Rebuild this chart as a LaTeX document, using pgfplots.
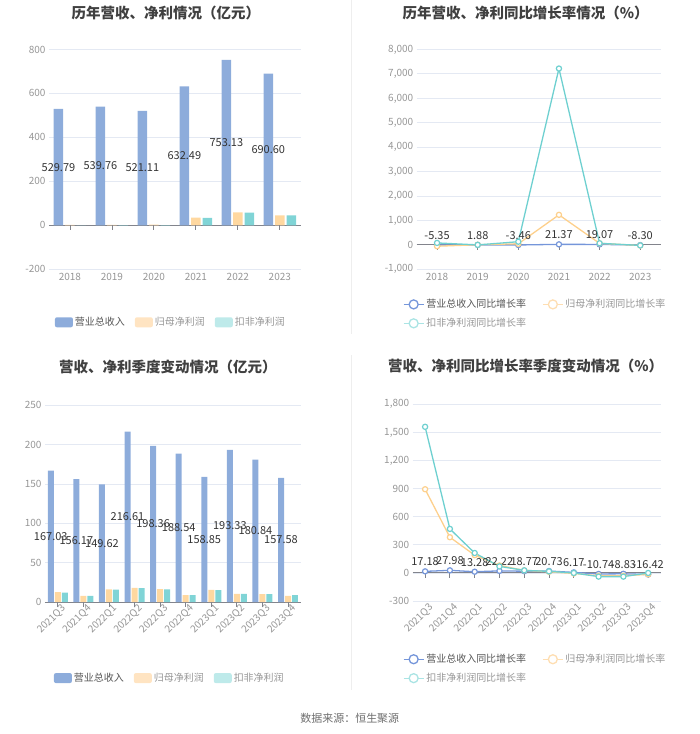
\documentclass[border=0pt]{standalone}
\usepackage{pgfplots}
\pgfplotsset{compat=1.18}
\usepackage{fontspec}
\setmainfont{Noto Sans CJK SC}
\definecolor{revc}{RGB}{141,172,219}
\definecolor{netc}{RGB}{255,216,160}
\definecolor{dedc}{RGB}{128,212,214}
\definecolor{netleg}{RGB}{255,228,194}
\definecolor{dedleg}{RGB}{190,234,234}
\definecolor{revl}{RGB}{117,150,218}
\definecolor{netl}{RGB}{253,208,140}
\definecolor{dedl}{RGB}{110,208,208}
\definecolor{netll}{RGB}{254,222,178}
\definecolor{dedll}{RGB}{170,228,228}
\definecolor{gridc}{RGB}{228,233,243}
\definecolor{zeroc}{RGB}{130,132,140}
\definecolor{tickc}{RGB}{150,150,150}
\definecolor{titlec}{RGB}{64,64,64}
\definecolor{labc}{RGB}{51,51,51}
\definecolor{divc}{RGB}{238,238,238}
\definecolor{legdark}{RGB}{85,85,85}
\definecolor{leglight}{RGB}{150,150,150}
\pgfplotsset{
  base/.style={
    scale only axis, anchor=south west,
    axis line style={draw=none},
    major tick length=0pt,
    ymajorgrids, grid style={gridc, line width=0.8bp},
    extra y ticks={0}, extra y tick labels={},
    extra y tick style={grid style={zeroc, line width=1bp}},
    tick label style={font=\fontsize{10bp}{12bp}\selectfont, text=tickc},
    /pgf/number format/1000 sep={,},
    /pgf/number format/assume math mode=true,
    clip=false,
    legend cell align=left,
    legend style={draw=none, fill=none, inner sep=0pt,
      font=\fontsize{10bp}{12bp}\selectfont},
  },
  barleg/.style={legend image code/.code={\fill[#1, rounded corners=2bp] (0bp,-5bp) rectangle (18bp,5bp);}},
  lineleg/.style={legend image code/.code={\draw[#1, line width=1.3bp] (0bp,0bp) -- (20bp,0bp); \draw[#1, fill=white, line width=1.3bp] (10bp,0bp) circle (4.5bp);}},
  barlab/.style={draw=none, mark=none, forget plot, point meta=explicit symbolic, nodes near coords,
    every node near coord/.append style={anchor=center, font=\fontsize{11bp}{13bp}\selectfont, text=labc}},
  lin/.style={#1, line width=1.3bp, mark=*, mark size=2.6bp, mark options={fill=white, draw=#1, line width=1.2bp, solid}},
  linelab/.style={point meta=explicit symbolic, nodes near coords,
    every node near coord/.append style={anchor=south, yshift=1.5bp, font=\fontsize{11bp}{13bp}\selectfont, text=labc}},
}
\begin{document}
\begin{tikzpicture}
\path (0bp,0bp) rectangle (700bp,734bp);
\draw[divc, line width=1bp] (352bp,734bp) -- (352bp,400bp);
\draw[divc, line width=1bp] (352bp,379bp) -- (352bp,44bp);
% titles
\node[font=\fontsize{14.5bp}{17bp}\selectfont\bfseries, text=titlec] at (166bp,721bp) {历年营收、净利情况（亿元）};
\node[font=\fontsize{14.5bp}{17bp}\selectfont\bfseries, text=titlec] at (526bp,721bp) {历年营收、净利同比增长率情况（\%）};
\node[font=\fontsize{14.5bp}{17bp}\selectfont\bfseries, text=titlec] at (168bp,367bp) {营收、净利季度变动情况（亿元）};
\node[font=\fontsize{14.5bp}{17bp}\selectfont\bfseries, text=titlec] at (526bp,368bp) {营收、净利同比增长率季度变动情况（\%）};
\node[font=\fontsize{11bp}{13bp}\selectfont, text={rgb,255:red,110;green,110;blue,110}] at (350bp,16bp) {数据来源：恒生聚源};

% ---------- Panel 1 ----------
\begin{axis}[base, at={(49bp,465bp)}, width=252bp, height=220bp,
  xmin=-0.5, xmax=5.5, ymin=-200, ymax=800, ytick={-200,0,...,800},
  xtick={0,...,5}, xticklabels={2018,2019,2020,2021,2022,2023},
  legend columns=3,
  legend style={at={(0.484,-0.241)}, anchor=center,
    /tikz/every even column/.append style={column sep=8bp}}]
\addplot[ybar, bar width=9.5bp, bar shift=-11.5bp, fill=revc, draw=none, barleg=revc]
  coordinates {(0,529.79) (1,539.76) (2,521.11) (3,632.49) (4,753.13) (5,690.60)};
\addlegendentry{\textcolor{legdark}{营业总收入}}
\addplot[ybar, bar width=9.5bp, bar shift=0bp, fill=netc, draw=none, barleg=netleg]
  coordinates {(0,1.8) (1,1.9) (2,2.8) (3,35.5) (4,59) (5,45.5)};
\addlegendentry{\textcolor{leglight}{归母净利润}}
\addplot[ybar, bar width=9.5bp, bar shift=11.5bp, fill=dedc, draw=none, barleg=dedleg]
  coordinates {(0,0.3) (1,0.5) (2,0.5) (3,34) (4,58) (5,45)};
\addlegendentry{\textcolor{leglight}{扣非净利润}}
\addplot[barlab] coordinates {(-0.274,264.9) [529.79] (0.726,269.88) [539.76] (1.726,260.56) [521.11] (2.726,316.25) [632.49] (3.726,376.57) [753.13] (4.726,345.3) [690.60]};
\pgfplotsinvokeforeach{0,...,5}{\draw[zeroc, line width=0.8bp] (axis cs:#1,0) -- ++(0bp,-5bp);}
\end{axis}

% ---------- Panel 2 ----------
\begin{axis}[base, at={(417bp,465bp)}, width=244bp, height=220bp,
  xmin=-0.5, xmax=5.5, ymin=-1000, ymax=8000, ytick={-1000,0,...,8000},
  xtick={0,...,5}, xticklabels={2018,2019,2020,2021,2022,2023},
  legend columns=2,
  legend style={at={(-0.057,-0.127)}, anchor=north west, row sep=5bp,
    /tikz/every even column/.append style={column sep=14bp}}]
\addplot[lin=revl, lineleg=revl, linelab]
  coordinates {(0,-5.35) [-5.35] (1,1.88) [1.88] (2,-3.46) [-3.46] (3,21.37) [21.37] (4,19.07) [19.07] (5,-8.30) [-8.30]};
\addlegendentry{\textcolor{legdark}{营业总收入同比增长率}}
\addplot[lin=netl, lineleg=netll]
  coordinates {(0,-55) (1,5) (2,45) (3,1230) (4,62) (5,-25)};
\addlegendentry{\textcolor{leglight}{归母净利润同比增长率}}
\addplot[lin=dedl, lineleg=dedll]
  coordinates {(0,80) (1,0) (2,130) (3,7220) (4,66) (5,-22)};
\addlegendentry{\textcolor{leglight}{扣非净利润同比增长率}}
\pgfplotsinvokeforeach{0,...,5}{\draw[zeroc, line width=0.8bp] (axis cs:#1,0) -- ++(0bp,-5bp);}
\end{axis}

% ---------- Panel 3 ----------
\begin{axis}[base, at={(45bp,132bp)}, width=256bp, height=197bp,
  xmin=-0.5, xmax=9.5, ymin=0, ymax=250, ytick={0,50,...,250},
  xtick={0,...,9}, xticklabels={2021Q3,2021Q4,2022Q1,2022Q2,2022Q3,2022Q4,2023Q1,2023Q2,2023Q3,2023Q4},
  xticklabel style={rotate=45, anchor=north east, inner sep=1bp, xshift=2bp, yshift=-2bp},
  legend columns=3,
  legend style={at={(0.488,-0.386)}, anchor=center,
    /tikz/every even column/.append style={column sep=8bp}}]
\addplot[ybar, bar width=6bp, bar shift=-7bp, fill=revc, draw=none, barleg=revc]
  coordinates {(0,167.03) (1,156.17) (2,149.62) (3,216.61) (4,198.36) (5,188.54) (6,158.85) (7,193.33) (8,180.84) (9,157.58)};
\addlegendentry{\textcolor{legdark}{营业总收入}}
\addplot[ybar, bar width=6bp, bar shift=0bp, fill=netc, draw=none, barleg=netleg]
  coordinates {(0,12.5) (1,8) (2,16) (3,18) (4,16.5) (5,8.7) (6,15.5) (7,10.5) (8,10.2) (9,8)};
\addlegendentry{\textcolor{leglight}{归母净利润}}
\addplot[ybar, bar width=6bp, bar shift=7bp, fill=dedc, draw=none, barleg=dedleg]
  coordinates {(0,12) (1,7.8) (2,15.8) (3,17.8) (4,16.2) (5,9) (6,15.2) (7,10.5) (8,10) (9,9)};
\addlegendentry{\textcolor{leglight}{扣非净利润}}
\addplot[barlab] coordinates {(-0.273,83.52) [167.03] (0.727,78.09) [156.17] (1.727,74.81) [149.62] (2.727,108.31) [216.61] (3.727,99.18) [198.36] (4.727,94.27) [188.54] (5.727,79.43) [158.85] (6.727,96.67) [193.33] (7.727,90.42) [180.84] (8.727,78.79) [157.58]};
\pgfplotsinvokeforeach{0,...,9}{\draw[zeroc, line width=0.8bp] (axis cs:#1,0) -- ++(0bp,-5bp);}
\end{axis}

% ---------- Panel 4 ----------
\begin{axis}[base, at={(413bp,133bp)}, width=248bp, height=197bp,
  xmin=-0.5, xmax=9.5, ymin=-300, ymax=1800, ytick={-300,0,...,1800},
  xtick={0,...,9}, xticklabels={2021Q3,2021Q4,2022Q1,2022Q2,2022Q3,2022Q4,2023Q1,2023Q2,2023Q3,2023Q4},
  xticklabel style={rotate=45, anchor=north east, inner sep=1bp, xshift=2bp, yshift=-2bp},
  legend columns=2,
  legend style={at={(-0.040,-0.259)}, anchor=north west, row sep=5bp,
    /tikz/every even column/.append style={column sep=14bp}}]
\addplot[lin=revl, lineleg=revl, linelab]
  coordinates {(0,17.18) [17.18] (1,27.98) [27.98] (2,13.28) [13.28] (3,22.22) [22.22] (4,18.77) [18.77] (5,20.73) [20.73] (6,6.17) [6.17] (7,-10.74) [-10.74] (8,-8.83) [-8.83] (9,-16.42) [-16.42]};
\addlegendentry{\textcolor{legdark}{营业总收入同比增长率}}
\addplot[lin=netl, lineleg=netll]
  coordinates {(0,893) (1,381) (2,190) (3,80) (4,28) (5,12) (6,-5) (7,-30) (8,-30) (9,-15)};
\addlegendentry{\textcolor{leglight}{归母净利润同比增长率}}
\addplot[lin=dedl, lineleg=dedll]
  coordinates {(0,1559) (1,470) (2,213) (3,70) (4,28) (5,17) (6,0) (7,-39) (8,-39) (9,0)};
\addlegendentry{\textcolor{leglight}{扣非净利润同比增长率}}
\pgfplotsinvokeforeach{0,...,9}{\draw[zeroc, line width=0.8bp] (axis cs:#1,0) -- ++(0bp,-5bp);}
\end{axis}
\end{tikzpicture}
\end{document}
